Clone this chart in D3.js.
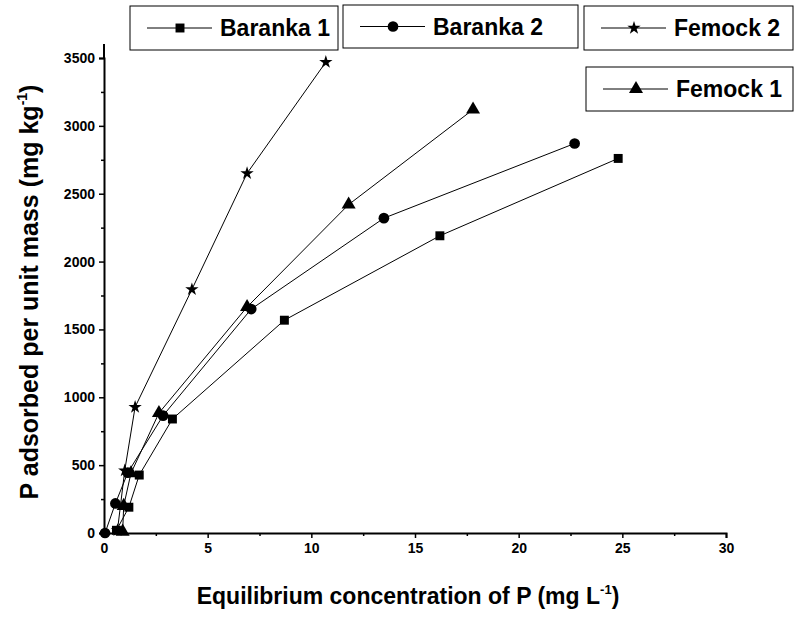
<!DOCTYPE html>
<html>
<head>
<meta charset="utf-8">
<script src="https://cdn.jsdelivr.net/npm/d3@7"></script>
<style>
  body { margin: 0; background: #fff; }
  svg text { font-family: "Liberation Sans Narrow", "Liberation Sans", Arial, sans-serif; font-weight: bold; }
</style>
</head>
<body>
<div class="chart-container"></div>
<script>
// Equilibrium concentration (mg/L) and P adsorbed (mg/kg)
const baranka1X = [0.6, 1.2, 1.7, 3.3, 8.7, 16.2, 24.8];
const baranka1Y = [20, 190, 427, 840, 1568, 2190, 2760];
const baranka2X = [0.05, 0.55, 1.15, 2.85, 7.1, 13.5, 22.7];
const baranka2Y = [0, 218, 445, 865, 1650, 2320, 2870];
const femock1X = [0.9, 0.95, 1.3, 2.65, 6.9, 11.8, 17.8];
const femock1Y = [10, 200, 440, 884, 1665, 2420, 3120];
const femock2X = [0.65, 1.0, 1.5, 4.24, 6.9, 10.7];
const femock2Y = [20, 460, 928, 1795, 2650, 3470];

const seriesNames = ["Baranka 1", "Baranka 2", "Femock 2", "Femock 1"];
const xTicks = [0, 5, 10, 15, 20, 25, 30];
const yTicks = [0, 500, 1000, 1500, 2000, 2500, 3000, 3500];

const series = [
    { name: seriesNames[0], xs: baranka1X, ys: baranka1Y, symbol: d3.symbolSquare, size: 80 },
    { name: seriesNames[1], xs: baranka2X, ys: baranka2Y, symbol: d3.symbolCircle, size: 90 },
    { name: seriesNames[2], xs: femock2X, ys: femock2Y, symbol: d3.symbolStar, size: 55 },
    { name: seriesNames[3], xs: femock1X, ys: femock1Y, symbol: d3.symbolTriangle, size: 85 }
];

const width = 795, height = 621;
const svg = d3.select(".chart-container").append("svg")
    .attr("width", width)
    .attr("height", height);

const x = d3.scaleLinear().domain([0, 30]).range([104, 726]);
const y = d3.scaleLinear().domain([0, 3500]).range([533, 58]);

// axes, major ticks with labels, minor ticks without
const xAxis = svg.append("g")
    .attr("transform", "translate(0," + y(0) + ")")
    .call(d3.axisBottom(x).tickValues(xTicks).tickSize(5).tickPadding(5).tickFormat(d3.format("d")));
svg.append("g")
    .attr("transform", "translate(0," + y(0) + ")")
    .call(d3.axisBottom(x).tickValues(d3.range(2.5, 30, 5)).tickSize(3).tickFormat(""))
    .select(".domain").remove();

const yAxis = svg.append("g")
    .attr("transform", "translate(" + x(0) + ",0)")
    .call(d3.axisLeft(y).tickValues(yTicks).tickSize(5).tickPadding(4).tickFormat(d3.format("d")));
svg.append("g")
    .attr("transform", "translate(" + x(0) + ",0)")
    .call(d3.axisLeft(y).tickValues(d3.range(250, 3500, 500)).tickSize(3).tickFormat(""))
    .select(".domain").remove();

svg.selectAll(".domain").attr("stroke-width", 2);
svg.selectAll(".tick line").attr("stroke-width", 1.5);
// extend y axis a bit above 3500
svg.append("line")
    .attr("x1", x(0)).attr("x2", x(0))
    .attr("y1", y(3500)).attr("y2", 44)
    .attr("stroke", "black").attr("stroke-width", 2);

svg.selectAll(".tick text")
    .attr("font-size", 14)
    .style("font-family", "'Liberation Sans', Arial, sans-serif")
    .style("font-weight", "bold")
    .attr("transform", null);

// data lines and markers
const line = d3.line().x(d => x(d[0])).y(d => y(d[1]));
series.forEach(s => {
    const pts = s.xs.map((v, i) => [v, s.ys[i]]);
    svg.append("path")
        .attr("d", line(pts))
        .attr("fill", "none")
        .attr("stroke", "black")
        .attr("stroke-width", 1);
    svg.selectAll(null)
        .data(pts)
        .enter().append("path")
        .attr("d", d3.symbol().type(s.symbol).size(s.size))
        .attr("transform", d => "translate(" + x(d[0]) + "," + y(d[1]) + ")")
        .attr("fill", "black");
});

// legend boxes
const legendBoxes = [
    { x0: 130, x1: 338, y0: 6, y1: 50 },
    { x0: 343, x1: 578, y0: 5, y1: 48 },
    { x0: 584, x1: 793, y0: 6, y1: 50 },
    { x0: 586, x1: 793, y0: 67, y1: 111 }
];
series.forEach((s, i) => {
    const b = legendBoxes[i];
    const g = svg.append("g");
    g.append("rect")
        .attr("x", b.x0).attr("y", b.y0)
        .attr("width", b.x1 - b.x0).attr("height", b.y1 - b.y0)
        .attr("fill", "white").attr("stroke", "black").attr("stroke-width", 1);
    const cy = (b.y0 + b.y1) / 2;
    g.append("line")
        .attr("x1", b.x0 + 17).attr("x2", b.x0 + 82)
        .attr("y1", cy).attr("y2", cy)
        .attr("stroke", "black").attr("stroke-width", 1);
    g.append("path")
        .attr("d", d3.symbol().type(s.symbol).size(s.size))
        .attr("transform", "translate(" + (b.x0 + 50) + "," + cy + ")");
    g.append("text")
        .attr("x", b.x0 + 90).attr("y", cy + 8)
        .attr("font-size", 23)
        .text(s.name);
});

// axis titles
const xt = svg.append("text")
    .attr("x", 408).attr("y", 604)
    .attr("text-anchor", "middle")
    .attr("font-size", 23);
xt.append("tspan").text("Equilibrium concentration of P (mg L");
xt.append("tspan").attr("font-size", 13).attr("dy", -10).text("-1");
xt.append("tspan").attr("dy", 10).text(")");

const yt = svg.append("text")
    .attr("transform", "translate(38,292) rotate(-90)")
    .attr("text-anchor", "middle")
    .attr("font-size", 25)
    .attr("font-family", "Liberation Sans, Arial, sans-serif");
yt.append("tspan").text("P adsorbed per unit mass (mg kg");
yt.append("tspan").attr("font-size", 14).attr("dy", -11).text("-1");
yt.append("tspan").attr("dy", 11).text(")");
</script>
</body>
</html>
